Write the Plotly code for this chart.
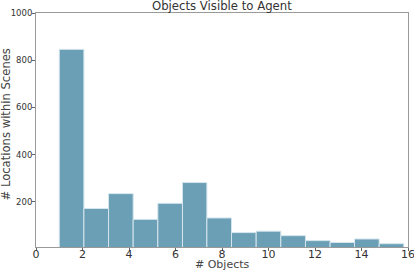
import plotly.graph_objects as go

bin_edges = [1.0, 2.06, 3.12, 4.18, 5.24, 6.3, 7.35, 8.41, 9.47, 10.53, 11.59, 12.65, 13.7, 14.76, 15.82]
counts = [846, 172, 235, 126, 194, 282, 132, 70, 76, 57, 36, 28, 43, 23]
x_ticks = [0, 2, 4, 6, 8, 10, 12, 14, 16]
y_ticks = [200, 400, 600, 800, 1000]

centers = [(bin_edges[i] + bin_edges[i + 1]) / 2 for i in range(len(counts))]
widths = [bin_edges[i + 1] - bin_edges[i] for i in range(len(counts))]

W, H = 414, 271
font = "DejaVu Sans"
fig = go.Figure(go.Bar(
    x=centers, y=counts, width=widths,
    marker=dict(color="#6a9fb5", line=dict(color="#d6e6ee", width=1)),
))
fig.update_layout(
    width=W, height=H,
    margin=dict(l=36, r=6, t=13, b=24, autoexpand=False),
    paper_bgcolor="white", plot_bgcolor="white",
    showlegend=False,
    font=dict(family=font, color="#333"),
    annotations=[
        dict(text="Objects Visible to Agent", xref="paper", yref="paper", x=0.5, y=1 + 7 / 234,
             xanchor="center", yanchor="middle", showarrow=False,
             font=dict(size=11.7, family=font, color="#333")),
        dict(text="# Objects", xref="paper", yref="paper", x=0.5, y=-17.5 / 234,
             xanchor="center", yanchor="middle", showarrow=False,
             font=dict(size=11, family=font, color="#444")),
        dict(text="# Locations within Scenes", xref="paper", yref="paper", x=-30.5 / 372, y=0.5 + 5 / 234,
             xanchor="center", yanchor="middle", showarrow=False, textangle=-90,
             font=dict(size=11.6, family=font, color="#444")),
    ],
)
fig.update_xaxes(
    range=[0, 16], tickvals=x_ticks, ticks="outside", ticklen=3, tickcolor="#666",
    showline=True, mirror=True, linecolor="#999", linewidth=1, showgrid=False, zeroline=False,
    automargin=False, ticklabelstandoff=-6, ticklabeloverflow="allow",
    tickfont=dict(size=11, family=font, color="#333"),
)
fig.update_yaxes(
    range=[9, 1000], tickvals=y_ticks, ticks="outside", ticklen=3, tickcolor="#666",
    showline=True, mirror=True, linecolor="#999", linewidth=1, showgrid=False, zeroline=False,
    automargin=False, ticklabelstandoff=-2, ticklabeloverflow="allow",
    tickfont=dict(size=8.5, family=font, color="#333"),
)
fig.write_html("out.html", config={"displayModeBar": False},
               post_script="document.body.style.margin='0';document.body.style.padding='0';")
